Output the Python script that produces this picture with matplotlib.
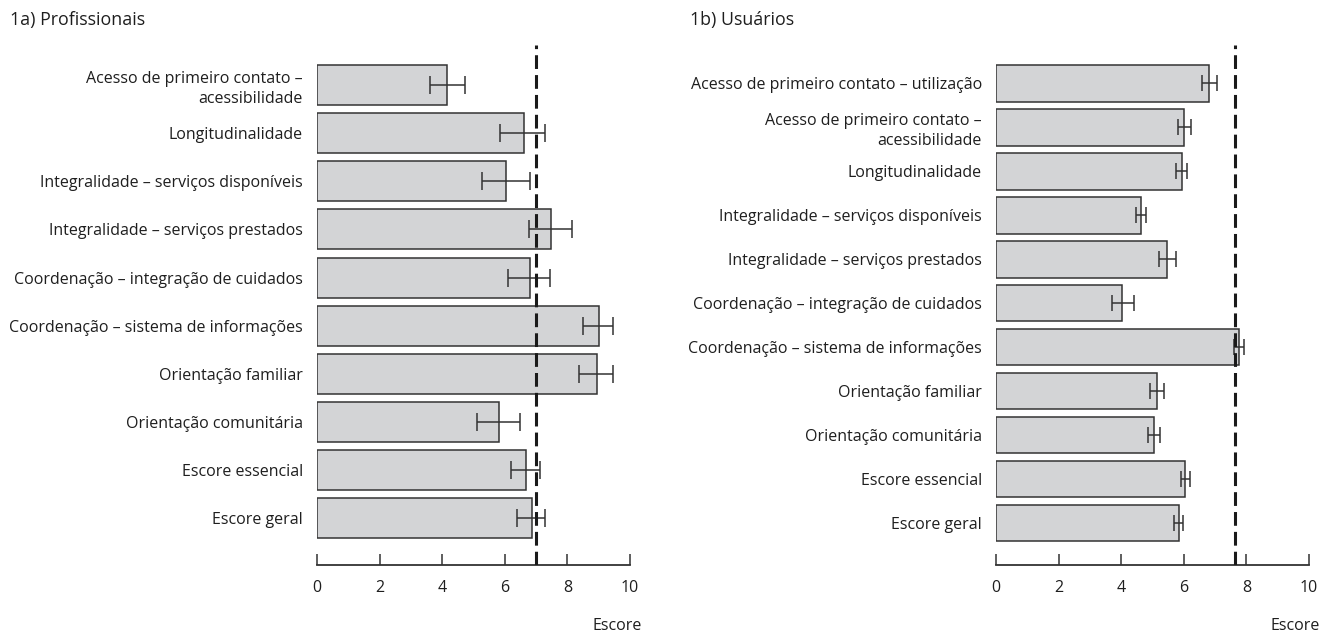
import matplotlib
matplotlib.use("Agg")
import matplotlib.pyplot as plt

plt.rcParams['font.family'] = ['Open Sans', 'DejaVu Sans']

# 1a) Profissionais
prof_labels = ["Acesso de primeiro contato –\nacessibilidade",
               "Longitudinalidade",
               "Integralidade – serviços disponíveis",
               "Integralidade – serviços prestados",
               "Coordenação – integração de cuidados",
               "Coordenação – sistema de informações",
               "Orientação familiar",
               "Orientação comunitária",
               "Escore essencial",
               "Escore geral"]
prof_mean = [4.15, 6.6, 6.03, 7.47, 6.8, 9.0, 8.95, 5.8, 6.68, 6.87]
prof_low = [3.6, 5.86, 5.28, 6.78, 6.11, 8.49, 8.37, 5.12, 6.19, 6.4]
prof_high = [4.74, 7.27, 6.8, 8.16, 7.44, 9.45, 9.45, 6.5, 7.14, 7.3]
prof_cut = 7.0

# 1b) Usuários
usu_labels = ["Acesso de primeiro contato – utilização",
              "Acesso de primeiro contato –\nacessibilidade",
              "Longitudinalidade",
              "Integralidade – serviços disponíveis",
              "Integralidade – serviços prestados",
              "Coordenação – integração de cuidados",
              "Coordenação – sistema de informações",
              "Orientação familiar",
              "Orientação comunitária",
              "Escore essencial",
              "Escore geral"]
usu_mean = [6.82, 6.01, 5.93, 4.64, 5.47, 4.04, 7.76, 5.15, 5.06, 6.05, 5.85]
usu_low = [6.59, 5.8, 5.76, 4.46, 5.2, 3.71, 7.61, 4.92, 4.87, 5.9, 5.7]
usu_high = [7.06, 6.22, 6.1, 4.79, 5.76, 4.42, 7.92, 5.38, 5.25, 6.19, 5.96]
usu_cut = 7.62

xticks = [0, 2, 4, 6, 8, 10]

fig = plt.figure(figsize=(13.23, 6.35), dpi=100)
ax1 = fig.add_axes([317/1323, 1-565/635, 313/1323, 520/635])
ax2 = fig.add_axes([996/1323, 1-565/635, 313/1323, 520/635])


def panel(ax, labels, mean, low, high, cut, ylims, cap):
    y = list(range(len(labels)))
    err = [[m - l for m, l in zip(mean, low)], [h - m for m, h in zip(mean, high)]]
    ax.barh(y, mean, height=0.83, color='#d3d4d6', edgecolor='#333333', linewidth=1.1)
    ax.errorbar(mean, y, xerr=err, fmt='none', ecolor='#333333', elinewidth=1.1,
                capsize=cap, capthick=1.1)
    ax.axvline(cut, color='#1a1a1a', linewidth=2.2, linestyle=(0, (4.5, 2)), zorder=5)
    ax.set_xlim(0, 10)
    ax.set_ylim(*ylims)
    ax.set_yticks(y)
    ax.set_yticklabels(labels, fontsize=11.5, color='#1e1e1e', linespacing=1.35)
    ax.tick_params(axis='y', length=0, pad=10)
    ax.set_xticks(xticks)
    ax.tick_params(axis='x', direction='in', length=8, width=1.1, color='#333333',
                   pad=11, labelsize=11.5, labelcolor='#1e1e1e')
    for s in ['left', 'right', 'top']:
        ax.spines[s].set_visible(False)
    ax.spines['bottom'].set_color('#333333')
    ax.spines['bottom'].set_linewidth(1.3)
    for lab in ax.get_yticklabels():
        lab.set_multialignment('right')


panel(ax1, prof_labels, prof_mean, prof_low, prof_high, prof_cut, (9.97, -0.83), 6.3)
panel(ax2, usu_labels, usu_mean, usu_low, usu_high, usu_cut, (10.95, -0.87), 5.5)

fig.text(10/1323, 1-20/635, "1a) Profissionais", fontsize=12.8, va='center', ha='left', color='#1e1e1e')
fig.text(690/1323, 1-20/635, "1b) Usuários", fontsize=12.8, va='center', ha='left', color='#1e1e1e')
fig.text(642/1323, 1-626/635, "Escore", fontsize=11.5, va='center', ha='right', color='#1e1e1e')
fig.text(1320/1323, 1-626/635, "Escore", fontsize=11.5, va='center', ha='right', color='#1e1e1e')

fig.savefig("out.png", dpi=100)
